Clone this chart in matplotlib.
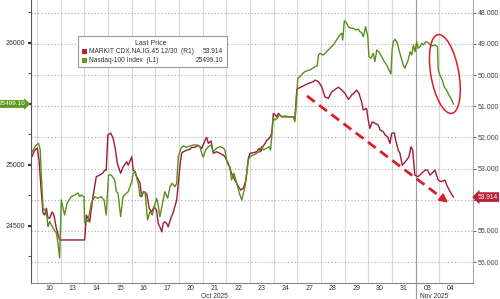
import matplotlib.pyplot as plt
import numpy as np
from matplotlib.patches import Ellipse, Rectangle
from matplotlib.transforms import IdentityTransform, blended_transform_factory

plt.rcParams['font.family'] = ['Liberation Sans', 'DejaVu Sans']

# trading-day axis: 0 = Oct 10 ... 17 = Nov 04
day_labels = ['10', '13', '14', '15', '16', '17', '20', '21', '22', '23',
              '24', '27', '28', '29', '30', '31', '03', '04']
month_labels = ['Oct 2025', 'Nov 2025']
month_pos = [7.0, 16.28]

# Nasdaq-100 Index (left axis)
ndx_t = [-0.72, -0.54, -0.44, -0.37, -0.33, -0.25, -0.18, -0.11, -0.04, 0.03,
         0.10, 0.17, 0.31, 0.38, 0.45, 0.52, 0.66, 0.77, 0.94, 1.09,
         1.23, 1.30, 1.37, 1.48, 1.51, 1.58, 1.65, 1.79, 1.93, 2.07,
         2.21, 2.33, 2.42, 2.52, 2.63, 2.78, 2.85, 2.92, 3.03, 3.13,
         3.27, 3.35, 3.50, 3.56, 3.64, 3.78, 3.85, 3.96, 4.06, 4.17,
         4.27, 4.37, 4.45, 4.55, 4.62, 4.69, 4.79, 4.90, 5.02, 5.12,
         5.21, 5.33, 5.40, 5.47, 5.58, 5.68, 5.82, 5.96, 6.10, 6.24,
         6.38, 6.46, 6.52, 6.63, 6.74, 6.85, 6.95, 7.09, 7.23, 7.37,
         7.44, 7.51, 7.58, 7.65, 7.72, 7.82, 7.94, 8.05, 8.15, 8.29,
         8.43, 8.50, 8.64, 8.78, 8.89, 8.99, 9.06, 9.20, 9.31, 9.37,
         9.42, 9.48, 9.56, 9.65, 9.74, 9.84, 9.98, 10.12, 10.26, 10.33,
         10.40, 10.47, 10.52, 10.61, 10.73, 10.82, 10.92, 11.04, 11.15, 11.25,
         11.34, 11.40, 11.46, 11.60, 11.74, 11.88, 12.02, 12.16, 12.30, 12.38,
         12.42, 12.49, 12.59, 12.66, 12.77, 12.87, 12.97, 13.08, 13.15, 13.22,
         13.29, 13.39, 13.48, 13.53, 13.62, 13.71, 13.78, 13.86, 13.95, 14.07,
         14.18, 14.28, 14.38, 14.46, 14.51, 14.56, 14.63, 14.70, 14.77, 14.80,
         14.88, 14.98, 15.05, 15.19, 15.27, 15.34, 15.41, 15.48, 15.55, 15.61,
         15.69, 15.76, 15.83, 15.93, 16.04, 16.18, 16.32, 16.43, 16.46, 16.53,
         16.63, 16.71, 16.81, 16.91, 17.03, 17.10]
ndx_v = [25106, 25163, 25177, 25122, 24933, 24646, 24630, 24614, 24493, 24534,
         24507, 24482, 24441, 24359, 24236, 24712, 24589, 24687, 24739, 24753,
         24769, 24739, 24753, 24739, 24523, 24548, 24534, 24687, 24739, 24726,
         24739, 24712, 24589, 24917, 24917, 24876, 24780, 24767, 24575, 24739,
         24767, 24780, 24862, 24931, 24944, 24843, 24739, 24767, 24780, 24548,
         24616, 24589, 24657, 24726, 24671, 24575, 24671, 24780, 24726, 24821,
         24849, 24821, 24849, 25067, 25136, 25155, 25144, 25155, 25163, 25163,
         25149, 25095, 25062, 25122, 25149, 25163, 25108, 25136, 25149, 25138,
         25122, 25040, 24999, 24985, 24876, 24931, 24849, 24767, 24712, 24821,
         25040, 25067, 25081, 25095, 25108, 25149, 25122, 25136, 25149, 25122,
         25231, 25382, 25368, 25382, 25409, 25395, 25401, 25395, 25395, 25395,
         25354, 25532, 25710, 25723, 25751, 25764, 25772, 25778, 25792, 25805,
         25811, 25901, 25915, 25901, 25928, 25956, 25983, 26024, 26065, 26079,
         26024, 26182, 26161, 26133, 26120, 26120, 26106, 26112, 26092, 26084,
         26051, 26133, 26051, 25887, 25874, 25915, 25846, 25942, 25928, 25887,
         25846, 25819, 25778, 25745, 25942, 26010, 26030, 26010, 25969, 25942,
         25887, 25819, 25792, 25860, 25928, 25901, 25983, 25928, 26010, 25956,
         25969, 25997, 25983, 26010, 26002, 25975, 25983, 25969, 25778, 25737,
         25696, 25641, 25614, 25573, 25532, 25499.10]

# MARKIT CDX.NA.IG.45 12/30 (right axis, inverted)
cdx_t = [-0.75, -0.60, -0.49, -0.42, -0.33, -0.25, -0.18, -0.11, -0.04, 0.03,
         0.13, 0.21, 0.31, 0.45, 1.51, 1.58, 1.65, 1.72, 1.86, 2.00,
         2.14, 2.28, 2.36, 2.42, 2.49, 2.61, 2.71, 2.80, 2.89, 3.03,
         3.14, 3.29, 3.35, 3.50, 3.56, 3.64, 3.71, 3.85, 3.92, 3.99,
         4.13, 4.24, 4.34, 4.44, 4.55, 4.62, 4.69, 4.77, 4.83, 4.90,
         4.98, 5.04, 5.15, 5.26, 5.40, 5.47, 5.54, 5.61, 5.68, 5.82,
         5.96, 6.03, 6.17, 6.31, 6.46, 6.60, 6.67, 6.74, 6.85, 6.95,
         7.09, 7.23, 7.37, 7.44, 7.58, 7.72, 7.86, 8.01, 8.11, 8.22,
         8.33, 8.43, 8.50, 8.64, 8.78, 8.89, 8.95, 9.04, 9.14, 9.21,
         9.32, 9.42, 9.49, 9.56, 9.63, 9.70, 9.77, 9.84, 9.98, 10.19,
         10.33, 10.40, 10.48, 10.54, 10.75, 10.96, 11.18, 11.25, 11.39, 11.53,
         11.67, 11.81, 11.96, 12.10, 12.24, 12.38, 12.52, 12.66, 12.80, 12.91,
         13.01, 13.11, 13.22, 13.29, 13.43, 13.50, 13.57, 13.67, 13.79, 13.92,
         14.00, 14.14, 14.21, 14.32, 14.42, 14.49, 14.60, 14.66, 14.77, 14.84,
         14.94, 15.01, 15.12, 15.22, 15.31, 15.38, 15.47, 15.61, 15.76, 15.90,
         16.01, 16.11, 16.19, 16.32, 16.46, 16.58, 16.74, 16.82, 16.96, 17.10]
cdx_v = [52.66, 52.41, 52.34, 52.73, 53.69, 54.43, 54.49, 54.27, 54.59, 54.59,
         54.39, 54.49, 54.91, 55.29, 55.29, 54.49, 54.59, 54.71, 53.90, 53.26,
         53.21, 53.14, 53.05, 53.05, 51.92, 51.86, 52.02, 52.35, 52.83, 53.15,
         52.94, 52.78, 52.89, 52.62, 53.05, 53.10, 53.26, 53.46, 53.90, 53.74,
         53.80, 54.28, 54.39, 54.23, 54.33, 54.76, 54.87, 55.03, 54.76, 54.71,
         54.76, 54.87, 54.60, 54.39, 54.01, 53.47, 52.89, 52.51, 52.46, 52.41,
         52.38, 52.32, 52.32, 52.25, 52.35, 52.09, 52.00, 52.19, 52.11, 52.51,
         52.46, 52.51, 52.57, 52.62, 52.83, 53.15, 53.37, 53.58, 53.69, 53.63,
         53.37, 52.67, 52.51, 52.49, 52.46, 52.35, 52.46, 52.30, 52.19, 52.09,
         52.03, 51.87, 51.23, 51.28, 51.34, 51.23, 51.28, 51.34, 51.34, 51.34,
         51.34, 51.39, 50.46, 50.43, 50.35, 50.27, 50.21, 50.16, 50.21, 50.37,
         50.70, 50.75, 50.54, 50.46, 50.39, 50.48, 50.59, 50.78, 50.64, 50.57,
         50.48, 50.59, 50.86, 51.12, 51.07, 51.44, 51.71, 51.50, 51.55, 51.60,
         51.76, 51.82, 51.92, 51.98, 52.19, 51.87, 51.85, 52.09, 52.41, 52.51,
         52.89, 52.83, 52.73, 52.62, 52.30, 52.41, 53.21, 53.26, 53.15, 53.05,
         53.05, 53.21, 53.15, 53.05, 53.37, 53.42, 53.37, 53.53, 53.74, 53.914]

ndx_last = 25499.10
cdx_last = 53.914

green = '#5a8f1c'
red = '#9e1b34'
mark_red = '#d91f26'

fig = plt.figure(figsize=(5, 2.99), dpi=100)
ax = fig.add_axes([0.062, 0.0535, 0.884, 0.9465])
ax2 = ax.twinx()

ax.set_xlim(-0.76, 17.93)
ax.set_ylim(24031, 26352)
ax2.set_ylim(56.67, 47.592)

# gridlines (horizontal ones follow the right axis)
r_ticks = np.arange(48, 57)
ax2.set_yticks(r_ticks)
# 54.000 sits under the last-price tag
ax2.set_yticklabels(['' if v == 54 else '%.3f' % v for v in r_ticks])
ax2.yaxis.grid(True, linestyle=(0, (1, 2)), color='#aaaaaa', lw=0.8)
for b in np.arange(-0.5, 17, 1.0):
    if b == 15.5:
        continue
    ax2.axvline(b, color='#d8d8d8', lw=0.8, zorder=0)
ax2.plot([15.5, 15.5], [47.592, 57.3], color='#9a9a9a', lw=0.8, clip_on=False, zorder=1)

# series: red on right axis, green on left axis drawn above
ax2.plot(cdx_t, cdx_v, color=red, lw=1.0)
ax.plot(ndx_t, ndx_v, color=green, lw=1.0)
ax.set_zorder(ax2.get_zorder() + 1)
ax.patch.set_visible(False)

# axes styling
l_ticks = [24500, 25000, 25500, 26000]
ax.set_yticks(l_ticks)
ax.set_yticklabels(['' if v == 25500 else str(v) for v in l_ticks])
ax.set_yticks(np.arange(24250, 26300, 500), minor=True)
ax.set_xticks(range(len(day_labels)))
ax.set_xticklabels(day_labels)
ax.tick_params(axis='x', length=0, pad=1.5, labelsize=5, colors='#333333')
ax.tick_params(axis='y', which='major', length=2.5, width=1.6, pad=1.5,
               labelsize=5, colors='#333333')
ax.tick_params(axis='y', which='minor', length=2, width=0.8, colors='#555555')
ax2.tick_params(axis='y', length=2, width=0.6, pad=1.5, labelsize=5,
                colors='#444444')
for a in (ax, ax2):
    a.spines['top'].set_visible(False)
ax.spines['left'].set_color('#555555')
ax.spines['bottom'].set_color('#888888')
ax.spines['right'].set_visible(False)
ax2.spines['left'].set_visible(False)
ax2.spines['bottom'].set_visible(False)
ax2.spines['right'].set_color('#aaaaaa')

for lab, pos in zip(month_labels, month_pos):
    ax.text(pos, -0.036, lab, transform=blended_transform_factory(ax.transData, ax.transAxes),
            ha='center', va='top', fontsize=4.8, color='#333333', clip_on=False)

# last price tags
ax.text(-0.012, ndx_last, '%.2f' % ndx_last,
        transform=blended_transform_factory(ax.transAxes, ax.transData),
        ha='right', va='center', fontsize=4.6, color='white', zorder=10, clip_on=False,
        bbox=dict(boxstyle='rarrow,pad=0.22', fc='#5e9a1e', ec='none'))
ax2.text(1.01, cdx_last, '%.3f' % cdx_last,
         transform=blended_transform_factory(ax2.transAxes, ax2.transData),
         ha='left', va='center', fontsize=4.8, color='white', zorder=10, clip_on=False,
         bbox=dict(boxstyle='larrow,pad=0.2', fc='#b7213a', ec='none'))

# dashed arrow
ax.plot([10.91, 16.58], [25565, 24734], color=mark_red, lw=2.0,
        dashes=(3.5, 2), solid_capstyle='butt', zorder=5)
ax.annotate('', xy=(16.88, 24690), xytext=(16.58, 24734),
            arrowprops=dict(arrowstyle='-|>', color=mark_red, lw=1.5,
                            mutation_scale=12, shrinkA=0, shrinkB=0), zorder=5)

# circle around the last move
fig.canvas.draw()
cx, cy = ax.transData.transform((16.74, 25745))
fig.patches.append(Ellipse((cx, cy), 28, 80, angle=10, fill=False,
                           ec=mark_red, lw=1.1, transform=IdentityTransform()))

# legend box
fig.patches.append(Rectangle((0.155, 0.777), 0.30, 0.103, transform=fig.transFigure,
                             fc='white', ec='#999999', lw=0.8, zorder=20))
fig.text(0.302, 0.853, 'Last Price', ha='center', va='center', fontsize=5,
         color='#333333', zorder=21)
rows = [('MARKIT CDX.NA.IG.45 12/30  (R1)', '%.3f' % cdx_last, '#b7213a', 0.827),
        ('Nasdaq-100 Index  (L1)', '%.2f' % ndx_last, '#5e9a1e', 0.799)]
for name, val, col, yy in rows:
    fig.patches.append(Rectangle((0.163, yy - 0.0085), 0.01, 0.017, transform=fig.transFigure,
                                 fc=col, ec='none', zorder=21))
    fig.text(0.178, yy, name, ha='left', va='center', fontsize=4.8, color='#333333', zorder=21)
    fig.text(0.446, yy, val, ha='right', va='center', fontsize=4.8, color='#333333', zorder=21)

fig.savefig('out.png', dpi=100)
